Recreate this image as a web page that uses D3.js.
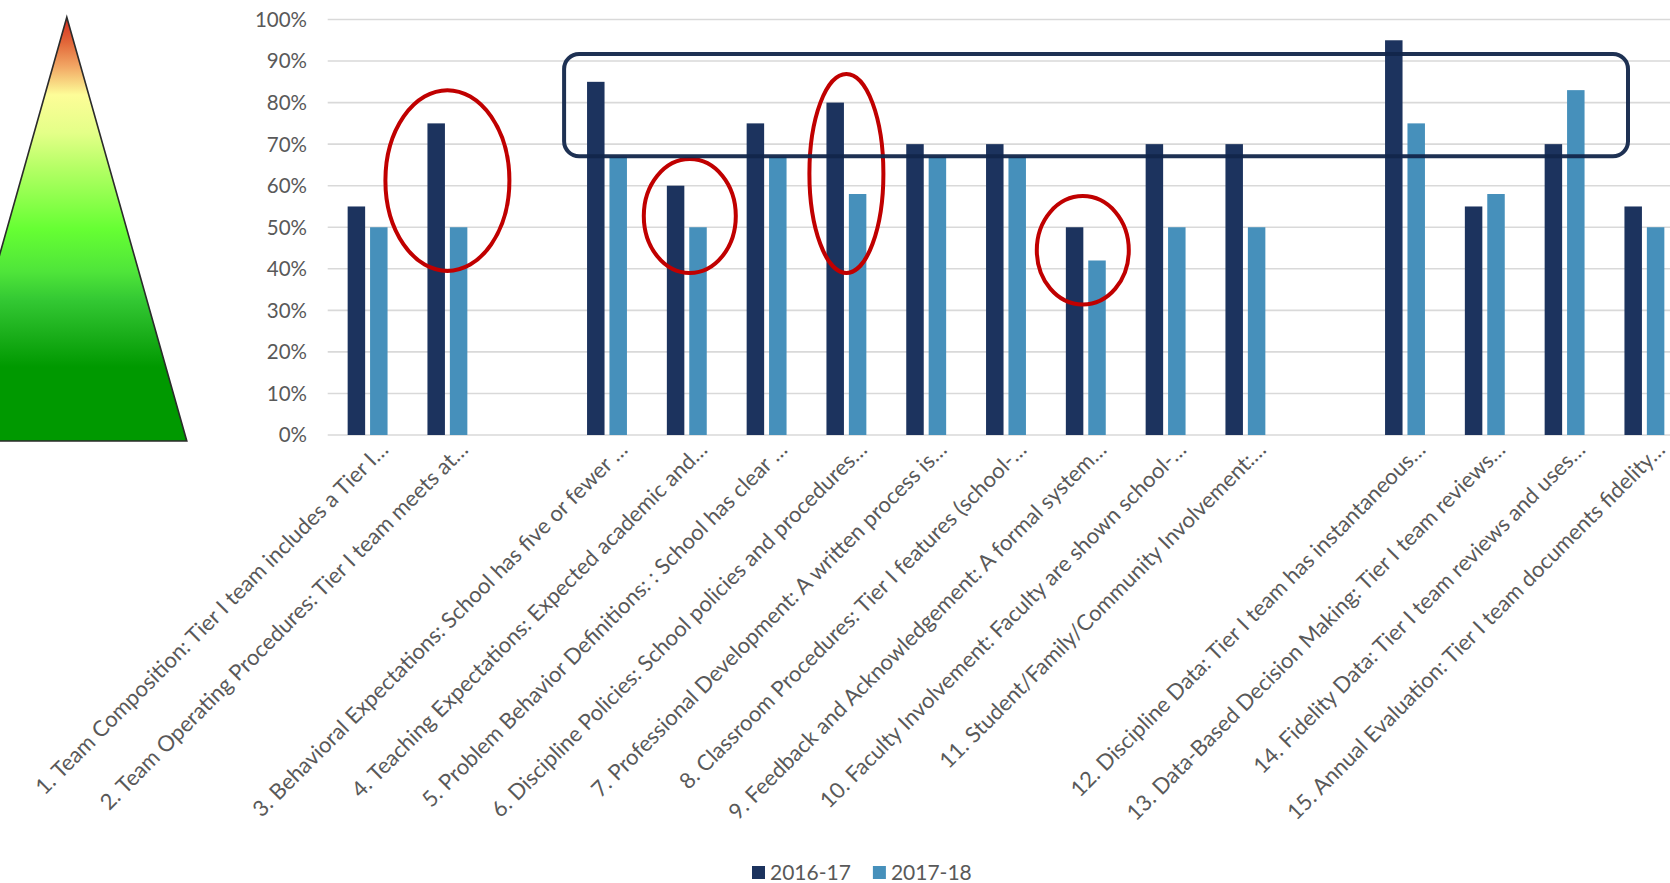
<!DOCTYPE html>
<html>
<head>
<meta charset="utf-8">
<script src="https://cdn.jsdelivr.net/npm/d3@7"></script>
<style>
body { margin: 0; background: #fff; }
svg { display: block; font-family: Lato, "Open Sans", sans-serif; }
</style>
</head>
<body>
<div id="chart-area"></div>
<script>
// blank entries are the empty rows of the source sheet
var categories = [
	"1. Team Composition: Tier I team includes a Tier I…",
	"2. Team Operating Procedures: Tier I team meets at…",
	"",
	"3. Behavioral Expectations: School has five or fewer …",
	"4. Teaching Expectations: Expected academic and…",
	"5. Problem Behavior Definitions: : School has clear …",
	"6. Discipline Policies: School policies and procedures…",
	"7. Professional Development: A written process is…",
	"8. Classroom Procedures: Tier I features (school-…",
	"9. Feedback and Acknowledgement: A formal system…",
	"10. Faculty Involvement: Faculty are shown school-…",
	"11. Student/Family/Community Involvement:…",
	"",
	"12. Discipline Data: Tier I team has instantaneous…",
	"13. Data-Based Decision Making: Tier I team reviews…",
	"14. Fidelity Data: Tier I team reviews and uses…",
	"15. Annual Evaluation: Tier I team documents fidelity…"
]
var series = ["2016-17", "2017-18"]
var values1617 = [55, 75, null, 85, 60, 75, 80, 70, 70, 50, 70, 70, null, 95, 55, 70, 55]
var values1718 = [50, 50, null, 67, 50, 67, 58, 67, 67, 42, 50, 50, null, 75, 58, 83, 50]
var yTicks = [0, 10, 20, 30, 40, 50, 60, 70, 80, 90, 100]
var colors = ["#1c335e", "#4690bb"]

var svgWidth = 1670
var svgHeight = 883
var plotLeft = 327.7, slotW = 79.8
var plotTop = 19.5, plotBottom = 435

var svg = d3.select("#chart-area")
	.append("svg")
	.attr("width", svgWidth)
	.attr("height", svgHeight)

var defs = svg.append("defs")

// pyramid on the left
var grad = defs.append("linearGradient")
	.attr("id", "pyr")
	.attr("x1", 0).attr("y1", 0).attr("x2", 0).attr("y2", 1)
var stops = [
	[0, "#d42a1e"], [0.06, "#e2683a"], [0.117, "#f2a865"], [0.183, "#fdfd98"],
	[0.273, "#e4ff88"], [0.353, "#b6ff66"], [0.5, "#66ff33"], [0.6, "#4fe53a"],
	[0.668, "#33c833"], [0.75, "#1aae1a"], [0.825, "#009900"], [1, "#009900"]
]
stops.forEach(function(s){
	grad.append("stop").attr("offset", s[0]).attr("stop-color", s[1])
})
svg.append("path")
	.attr("d", "M66.8,17.3 L186.8,441 L-53,441 Z")
	.attr("fill", "url(#pyr)")
	.attr("stroke", "#2b2b2b")
	.attr("stroke-width", 1.6)

var x0 = d3.scaleBand()
	.domain(d3.range(categories.length))
	.range([plotLeft, plotLeft + slotW * categories.length])

var x1 = d3.scaleBand()
	.domain(series)
	.range([slotW * 0.25, slotW * 0.75])
	.paddingInner(0.22)

var y = d3.scaleLinear()
	.domain([0, 100])
	.range([plotBottom, plotTop])

// gridlines
svg.append("g")
	.selectAll("line")
	.data(yTicks)
	.enter()
	.append("line")
	.attr("x1", plotLeft)
	.attr("x2", plotLeft + slotW * categories.length)
	.attr("y1", function(d){ return y(d) })
	.attr("y2", function(d){ return y(d) })
	.attr("stroke", "#d9d9d9")
	.attr("stroke-width", 1.6)

// y labels
svg.append("g")
	.selectAll("text")
	.data(yTicks)
	.enter()
	.append("text")
	.attr("x", 307)
	.attr("y", function(d){ return y(d) })
	.attr("dy", "0.36em")
	.attr("text-anchor", "end")
	.attr("fill", "#595959")
	.style("font-size", "20.5px")
	.text(function(d){ return d + "%" })

var rows = categories.map(function(c, i){
	return { i: i, cat: c, vals: [values1617[i], values1718[i]] }
})

var groups = svg.append("g")
	.selectAll("g")
	.data(rows)
	.enter()
	.append("g")
	.attr("transform", function(d){ return "translate(" + x0(d.i) + ",0)" })

groups.selectAll("rect")
	.data(function(d){
		return series.map(function(s, k){ return { s: s, k: k, v: d.vals[k] } })
			.filter(function(b){ return b.v != null })
	})
	.enter()
	.append("rect")
	.attr("x", function(b){ return x1(b.s) })
	.attr("y", function(b){ return y(b.v) })
	.attr("width", x1.bandwidth())
	.attr("height", function(b){ return y(0) - y(b.v) })
	.attr("fill", function(b){ return colors[b.k] })

// category labels
svg.append("g")
	.selectAll("text")
	.data(rows.filter(function(d){ return d.cat !== "" }))
	.enter()
	.append("text")
	.attr("transform", function(d){
		var cx = x0(d.i) + slotW / 2 + 22
		return "translate(" + cx + ",451) rotate(-45)"
	})
	.attr("text-anchor", "end")
	.attr("fill", "#595959")
	.style("font-size", "22px")
	.text(function(d){ return d.cat })

// annotations: red ellipses and the dark box
var rings = [
	{ i: 1, hi: 83, lo: 39.5, rx: 62, dx: 0 },
	{ i: 4, hi: 66.4, lo: 39, rx: 46, dx: 3 },
	{ i: 6, hi: 86.9, lo: 39, rx: 37, dx: 0 },
	{ i: 9, hi: 57.5, lo: 31.4, rx: 46, dx: -3 }
]
svg.append("g")
	.selectAll("ellipse")
	.data(rings)
	.enter()
	.append("ellipse")
	.attr("cx", function(d){ return x0(d.i) + slotW / 2 + d.dx })
	.attr("cy", function(d){ return (y(d.hi) + y(d.lo)) / 2 })
	.attr("rx", function(d){ return d.rx })
	.attr("ry", function(d){ return (y(d.lo) - y(d.hi)) / 2 })
	.attr("fill", "none")
	.attr("stroke", "#c00000")
	.attr("stroke-width", 4)

var boxL = x0(3) - 3, boxR = x0(16) + 23.5
svg.append("rect")
	.attr("x", boxL)
	.attr("y", y(91.7))
	.attr("width", boxR - boxL)
	.attr("height", y(67.1) - y(91.7))
	.attr("rx", 15)
	.attr("fill", "none")
	.attr("stroke", "#12264a")
	.attr("stroke-opacity", 0.95)
	.attr("stroke-width", 4)

// legend
var legend = svg.append("g").attr("transform", "translate(752,866)")
var lx = 0
series.forEach(function(s, k){
	legend.append("rect")
		.attr("x", lx).attr("y", 0)
		.attr("width", 13).attr("height", 13)
		.attr("fill", colors[k])
	var t = legend.append("text")
		.attr("x", lx + 18).attr("y", 6.5)
		.attr("dy", "0.36em")
		.attr("fill", "#595959")
		.style("font-size", "21px")
		.text(s)
	lx += 18 + t.node().getComputedTextLength() + 22
})
</script>
</body>
</html>
